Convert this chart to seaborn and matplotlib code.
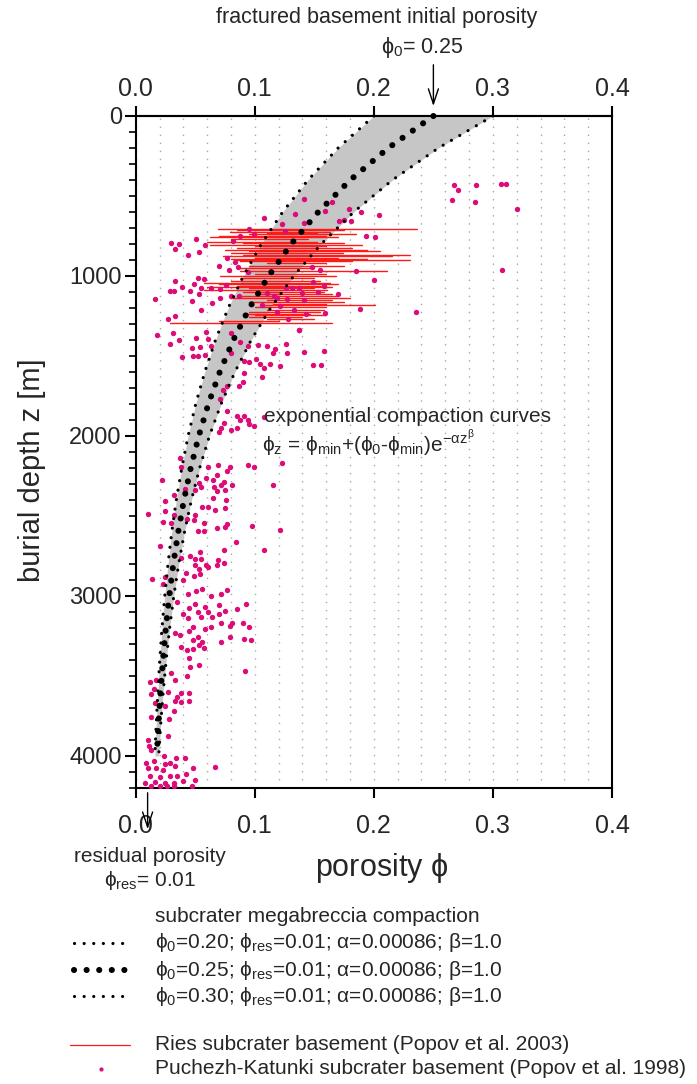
import numpy as np
import pandas as pd
import seaborn as sns
import matplotlib.pyplot as plt
from matplotlib.lines import Line2D
from matplotlib.ticker import MultipleLocator

# ---------------- data ----------------
phi0_values = [0.20, 0.25, 0.30]
phi_res = 0.01
alpha = 0.00086
beta = 1.0

curve_depth = [0, 200, 400, 600, 800, 1000, 1200, 1400, 1600, 1800, 2000,
               2200, 2400, 2600, 2800, 3000, 3200, 3400, 3600, 3800, 4000]
curve_phi_020 = [0.200, 0.1700, 0.1447, 0.1234, 0.1055, 0.0904, 0.0777, 0.0670,
                 0.0580, 0.0504, 0.0440, 0.0387, 0.0341, 0.0303, 0.0271, 0.0244,
                 0.0221, 0.0202, 0.0186, 0.0172, 0.0161]
curve_phi_025 = [0.250, 0.2121, 0.1802, 0.1533, 0.1306, 0.1116, 0.0955, 0.0820,
                 0.0706, 0.0610, 0.0530, 0.0462, 0.0405, 0.0357, 0.0316, 0.0282,
                 0.0253, 0.0229, 0.0208, 0.0191, 0.0177]
curve_phi_030 = [0.300, 0.2542, 0.2156, 0.1831, 0.1558, 0.1327, 0.1133, 0.0970,
                 0.0833, 0.0717, 0.0619, 0.0537, 0.0468, 0.0410, 0.0361, 0.0320,
                 0.0285, 0.0256, 0.0231, 0.0210, 0.0193]

# Ries subcrater basement (Popov et al. 2003): porosity range per sample depth
ries_depth = [707, 715, 722, 730, 737, 748, 758, 770, 785, 795, 805, 815, 826, 836,
              846, 857, 867, 878, 888, 893, 899, 909, 920, 935, 950, 968, 985, 999,
              1015, 1030, 1043, 1052, 1060, 1070, 1078, 1086, 1100, 1115, 1125, 1136,
              1148, 1160, 1172, 1184, 1196, 1210, 1222, 1236, 1246, 1255, 1268, 1280,
              1294]
ries_phi_min = [0.069, 0.085, 0.079, 0.110, 0.095, 0.070, 0.062, 0.080, 0.060, 0.090,
                0.062, 0.100, 0.085, 0.075, 0.095, 0.080, 0.090, 0.073, 0.100, 0.080,
                0.085, 0.088, 0.110, 0.095, 0.088, 0.088, 0.100, 0.071, 0.090, 0.080,
                0.057, 0.070, 0.085, 0.060, 0.095, 0.057, 0.090, 0.100, 0.085, 0.079,
                0.110, 0.095, 0.115, 0.104, 0.100, 0.110, 0.095, 0.090, 0.100, 0.095,
                0.110, 0.070, 0.029]
ries_phi_max = [0.236, 0.175, 0.163, 0.152, 0.185, 0.160, 0.170, 0.145, 0.152, 0.175,
                0.190, 0.160, 0.182, 0.194, 0.205, 0.174, 0.230, 0.215, 0.170, 0.194,
                0.230, 0.182, 0.160, 0.175, 0.150, 0.211, 0.160, 0.168, 0.150, 0.155,
                0.163, 0.170, 0.160, 0.165, 0.150, 0.161, 0.158, 0.165, 0.170, 0.180,
                0.165, 0.175, 0.160, 0.201, 0.160, 0.158, 0.155, 0.146, 0.160, 0.140,
                0.150, 0.120, 0.165]

# Puchezh-Katunki subcrater basement (Popov et al. 1998)
pk_phi = [
    0.141, 0.134, 0.108, 0.123, 0.141, 0.125, 0.095, 0.099, 0.088, 0.082, 0.051, 0.030,
    0.036, 0.033, 0.058, 0.053, 0.044, 0.077, 0.083, 0.086, 0.070, 0.078, 0.094, 0.148,
    0.155, 0.052, 0.033, 0.057, 0.049, 0.039, 0.063, 0.071, 0.055, 0.076, 0.029, 0.032,
    0.046, 0.053, 0.016, 0.047, 0.064, 0.071, 0.080, 0.087, 0.110, 0.116, 0.119, 0.126,
    0.131, 0.137, 0.149, 0.158, 0.153, 0.140, 0.141, 0.127, 0.121, 0.106, 0.055, 0.033,
    0.027, 0.119, 0.133, 0.143, 0.159, 0.128, 0.137,
    0.2675, 0.2706, 0.2857, 0.3064, 0.3111, 0.2658, 0.2851, 0.3201, 0.165, 0.179, 0.189,
    0.159, 0.204, 0.171, 0.175, 0.181, 0.193, 0.201, 0.308, 0.185, 0.200, 0.170, 0.188,
    0.235,
    0.018, 0.031, 0.029, 0.036, 0.059, 0.051, 0.061, 0.080, 0.039, 0.047, 0.054, 0.048,
    0.052, 0.058, 0.063, 0.080, 0.088, 0.094, 0.103, 0.110, 0.115, 0.117, 0.126, 0.137,
    0.141, 0.158, 0.127, 0.149, 0.156, 0.091, 0.095, 0.101, 0.104, 0.108, 0.113, 0.121,
    0.106, 0.091, 0.090, 0.087, 0.077, 0.073, 0.071, 0.077, 0.085, 0.088, 0.091, 0.094,
    0.095, 0.099, 0.085, 0.080, 0.074, 0.072, 0.070, 0.108, 0.099, 0.094, 0.123, 0.079,
    0.077, 0.069, 0.068, 0.061, 0.065, 0.059, 0.072, 0.066, 0.037, 0.038, 0.022, 0.115,
    0.055,
    0.053, 0.074, 0.081, 0.032, 0.041, 0.050, 0.068, 0.075, 0.065, 0.076, 0.025, 0.025,
    0.010, 0.056, 0.061, 0.067, 0.075, 0.050, 0.032, 0.043, 0.049, 0.023, 0.030, 0.057,
    0.052, 0.057, 0.068, 0.075, 0.077, 0.098, 0.121, 0.084, 0.108, 0.020, 0.074, 0.054,
    0.046, 0.050, 0.055, 0.038, 0.069, 0.074, 0.068, 0.059, 0.061, 0.050, 0.053, 0.042,
    0.054, 0.049, 0.025, 0.014, 0.040, 0.023, 0.051, 0.056, 0.077, 0.044, 0.063, 0.072,
    0.035, 0.093, 0.085, 0.070, 0.050, 0.045, 0.058, 0.075, 0.052, 0.061, 0.040, 0.044,
    0.055, 0.064, 0.070, 0.072, 0.079, 0.081, 0.090, 0.095, 0.063, 0.058, 0.048, 0.045,
    0.037, 0.033, 0.052, 0.079, 0.091, 0.097, 0.048, 0.056, 0.053, 0.072, 0.038,
    0.057, 0.043, 0.048, 0.045, 0.053, 0.046, 0.092, 0.030, 0.043, 0.017, 0.012, 0.033,
    0.015, 0.027, 0.038, 0.045, 0.013, 0.035, 0.033, 0.038, 0.045, 0.016, 0.025, 0.032,
    0.028, 0.013, 0.027, 0.010, 0.011, 0.013, 0.024, 0.034, 0.041, 0.009, 0.015, 0.025,
    0.029, 0.033, 0.048, 0.067, 0.010, 0.017, 0.023, 0.029, 0.035, 0.042, 0.012, 0.020,
    0.050, 0.008, 0.016, 0.025, 0.032, 0.040, 0.013, 0.020, 0.026, 0.032, 0.047]
pk_depth = [
    518, 613, 636, 674, 666, 717, 707, 736, 747, 780, 770, 793,
    801, 832, 807, 850, 871, 888, 915, 943, 936, 965, 977, 944,
    965, 1011, 1032, 1017, 1053, 1067, 1074, 1082, 1076, 1059, 1095, 1093,
    1091, 1110, 1146, 1155, 1170, 1135, 1122, 1128, 1107, 1128, 1137, 1072,
    1076, 1074, 1040, 1061, 1101, 1107, 1149, 1145, 1190, 1180, 1215, 1252,
    1269, 1222, 1211, 1236, 1232, 1269, 1336,
    432, 463, 432, 428, 428, 524, 535, 579, 539, 579, 597,
    592, 618, 655, 649, 657, 753, 755, 960, 971, 1023, 1113, 1209,
    1226,
    1369, 1355, 1422, 1397, 1351, 1386, 1395, 1355, 1506, 1449, 1441, 1502,
    1497, 1495, 1439, 1481, 1411, 1439, 1430, 1439, 1481, 1455, 1424, 1340,
    1477, 1470, 1481, 1558, 1558, 1533, 1539, 1518, 1548, 1577, 1550, 1565,
    1632, 1607, 1661, 1690, 1690, 1711, 1768, 1845, 1874, 1903, 1878, 1899,
    1924, 1937, 1953, 1962, 1920, 1953, 1976, 1884, 2191, 2182, 2169, 2191,
    2216, 2180, 2243, 2191, 2274, 2264, 2306, 2316, 2138, 2191, 2274, 2306,
    2316,
    2291, 2285, 2307, 2367, 2331, 2337, 2343, 2337, 2386, 2400, 2408, 2471,
    2488, 2442, 2442, 2465, 2452, 2492, 2492, 2519, 2524, 2536, 2541, 2545,
    2593, 2593, 2572, 2566, 2551, 2562, 2589, 2663, 2713, 2686, 2711, 2726,
    2753, 2768, 2770, 2764, 2774, 2795, 2804, 2808, 2816, 2806, 2833, 2858,
    2860, 2875, 2883, 2894, 2900, 2927, 2966, 2956, 2960, 2987, 2998, 2987,
    3037, 3048, 3079, 3059, 3050, 3075, 3071, 3094, 3100, 3100, 3115, 3138,
    3134, 3130, 3115, 3170, 3185, 3170, 3170, 3191, 3191, 3205, 3195, 3216,
    3245, 3229, 3254, 3258, 3266, 3275, 3277, 3287, 3304, 3289, 3317,
    3326, 3339, 3333, 3389, 3429, 3446, 3467, 3479, 3500, 3525, 3538, 3525,
    3584, 3599, 3609, 3609, 3613, 3634, 3657, 3664, 3655, 3668, 3689, 3720,
    3767, 3759, 3875, 3900, 3937, 3964, 4003, 4012, 4012, 4041, 4031, 4052,
    4045, 4062, 4075, 4066, 4077, 4073, 4089, 4124, 4128, 4113, 4124, 4134,
    4149, 4166, 4162, 4170, 4166, 4156, 4186, 4186, 4186, 4186, 4186]

x_ticks = [0.0, 0.1, 0.2, 0.3, 0.4]
x_ticklabels = ["0.0", "0.1", "0.2", "0.3", "0.4"]
y_ticks = [0, 1000, 2000, 3000, 4000]
y_ticklabels = ["0", "1000", "2000", "3000", "4000"]

legend_labels = [
    r"$\phi_0$=0.20; $\phi_{res}$=0.01; $\alpha$=0.00086; $\beta$=1.0",
    r"$\phi_0$=0.25; $\phi_{res}$=0.01; $\alpha$=0.00086; $\beta$=1.0",
    r"$\phi_0$=0.30; $\phi_{res}$=0.01; $\alpha$=0.00086; $\beta$=1.0",
]

# ---------------- style ----------------
sns.set_theme(style="white")
plt.rcParams["font.family"] = ["Liberation Sans", "DejaVu Sans"]
plt.rcParams["mathtext.fontset"] = "custom"
plt.rcParams["mathtext.rm"] = "Liberation Sans"
plt.rcParams["mathtext.it"] = "Liberation Sans"
plt.rcParams["mathtext.sf"] = "Liberation Sans"
plt.rcParams["mathtext.bf"] = "Liberation Sans:bold"
plt.rcParams["mathtext.fallback"] = "stixsans"

PINK = "#dc0c78"
RED = "#ff1a1a"
W, H = 697, 1084


def fp(x, y):
    """figure fraction from top-left pixel position"""
    return x / W, 1 - y / H


fig = plt.figure(figsize=(W / 100, H / 100), dpi=100)
l, b = fp(135.7, 788)
r, t = fp(612, 116)
ax = fig.add_axes([l, b, r - l, t - b])

# band between phi0=0.20 and phi0=0.30
ax.fill_betweenx(curve_depth, curve_phi_020, curve_phi_030, color="#c6c6c6", lw=0, zorder=1)

# Ries: one horizontal segment per sample
ries_df = pd.DataFrame({
    "sample": list(range(len(ries_depth))) * 2,
    "z": ries_depth + ries_depth,
    "phi": ries_phi_min + ries_phi_max,
}).sort_values(["sample", "phi"])
sns.lineplot(data=ries_df, x="phi", y="z", units="sample", sort=False,
             estimator=None, color=RED, lw=1.0, ax=ax, zorder=3)

# Puchezh-Katunki
pk_df = pd.DataFrame({"phi": pk_phi, "z": pk_depth})
sns.scatterplot(data=pk_df, x="phi", y="z", color=PINK, s=15, linewidth=0,
                ax=ax, zorder=4)

# compaction curves
curves = pd.DataFrame({"z": curve_depth * 3,
                       "phi": curve_phi_020 + curve_phi_025 + curve_phi_030,
                       "phi0": [phi0_values[0]] * len(curve_depth)
                       + [phi0_values[1]] * len(curve_depth)
                       + [phi0_values[2]] * len(curve_depth)})
styles = {0.20: (2.3, (0, (0.01, 3.0))),
          0.25: (4.4, (0, (0.01, 2.05))),
          0.30: (2.3, (0, (0.01, 3.0)))}
for p0 in phi0_values:
    sub = curves[curves["phi0"] == p0]
    lw, ls = styles[p0]
    n0 = len(ax.lines)
    sns.lineplot(data=sub, x="phi", y="z", sort=False, estimator=None,
                 color="black", lw=lw, ax=ax, zorder=5)
    for ln in ax.lines[n0:]:
        ln.set_linestyle(ls)
        ln.set_dash_capstyle("round")
        ln.set_clip_on(False)

# axes
ax.set_xlim(0, 0.4)
ax.set_ylim(4200, 0)
ax.set_xticks(x_ticks)
ax.set_xticklabels(x_ticklabels)
ax.set_yticks(y_ticks)
ax.set_yticklabels(y_ticklabels)
ax.xaxis.set_minor_locator(MultipleLocator(0.02))
ax.yaxis.set_minor_locator(MultipleLocator(100))
ax.grid(True, which="both", axis="x", color="#a8a8a8", lw=1.0,
        linestyle=(0, (1.0, 4.8)), zorder=0)
ax.set_axisbelow(True)
for s in ax.spines.values():
    s.set_color("black")
    s.set_linewidth(1.5)
ax.tick_params(axis="x", which="major", bottom=True, top=False, direction="out",
               length=7, width=1.5, color="black", labelsize=18, pad=12)
ax.tick_params(axis="x", which="minor", length=0)
ax.tick_params(axis="y", which="major", left=True, direction="out", length=8,
               width=1.5, color="black", labelsize=17, pad=2)
ax.tick_params(axis="y", which="minor", left=True, direction="out", length=5,
               width=1.2, color="black")
ax.set_xlabel("")
ax.set_ylabel("")

top = ax.secondary_xaxis("top")
top.set_xticks(x_ticks)
top.set_xticklabels(x_ticklabels)
top.tick_params(axis="x", direction="out", length=7, width=1.5, color="black",
                labelsize=18, pad=4)
top.spines["top"].set_linewidth(1.5)

# axis titles
fig.text(*fp(382, 868), r"porosity $\phi$", fontsize=22, ha="center", va="center")
fig.text(*fp(32, 470), "burial depth z [m]", fontsize=21, rotation=90,
         ha="center", va="center")

# annotations
fig.text(*fp(377, 17), "fractured basement initial porosity", fontsize=15.5,
         ha="center", va="center")
fig.text(*fp(422, 47), r"$\phi_0$= 0.25", fontsize=15.5, ha="center", va="center")
ax.annotate("", xy=(0.25, -45), xycoords="data", xytext=(0.25, 1084 - 62),
            textcoords=("data", "figure pixels"), annotation_clip=False,
            arrowprops=dict(arrowstyle="->,head_length=0.9,head_width=0.3",
                            color="black", lw=1.0))
ax.annotate("", xy=(0.01, 1084 - 832), xycoords=("data", "figure pixels"),
            xytext=(0.01, 1084 - 790), textcoords=("data", "figure pixels"),
            annotation_clip=False,
            arrowprops=dict(arrowstyle="->,head_length=0.9,head_width=0.3",
                            color="black", lw=1.0))
fig.text(*fp(150, 856), "residual porosity", fontsize=15, ha="center", va="center")
fig.text(*fp(150, 881), r"$\phi_{res}$= 0.01", fontsize=15, ha="center", va="center")

fig.text(*fp(264, 416), "exponential compaction curves", fontsize=15,
         ha="left", va="center")
fig.text(*fp(262, 443),
         r"$\phi_z$ = $\phi_{min}$+($\phi_0$-$\phi_{min}$)e$^{-\alpha z^{\beta}}$",
         fontsize=15, ha="left", va="center")

# legend (manual layout)
fig.text(*fp(155, 916), "subcrater megabreccia compaction", fontsize=15,
         ha="left", va="center")
leg_rows = [943, 970, 996]
leg_styles = [styles[0.20], styles[0.25], styles[0.30]]
for yrow, lab, (lw, ls) in zip(leg_rows, legend_labels, leg_styles):
    x0, y0 = fp(74, yrow)
    x1, _ = fp(130, yrow)
    ln = Line2D([x0, x1], [y0, y0], transform=fig.transFigure, color="black",
                lw=lw, linestyle=ls, dash_capstyle="round")
    fig.add_artist(ln)
    fig.text(*fp(155, yrow), lab, fontsize=15, ha="left", va="center")

x0, y0 = fp(70, 1045)
x1, _ = fp(130, 1045)
fig.add_artist(Line2D([x0, x1], [y0, y0], transform=fig.transFigure, color=RED, lw=0.9))
fig.text(*fp(155, 1045), "Ries subcrater basement (Popov et al. 2003)", fontsize=15,
         ha="left", va="center")
xd, yd = fp(101, 1069)
fig.add_artist(Line2D([xd], [yd], transform=fig.transFigure, color=PINK, marker="o",
                      markersize=3, lw=0, markeredgewidth=0))
fig.text(*fp(155, 1069), "Puchezh-Katunki subcrater basement (Popov et al. 1998)",
         fontsize=15, ha="left", va="center")

fig.savefig("out.png", dpi=100)
